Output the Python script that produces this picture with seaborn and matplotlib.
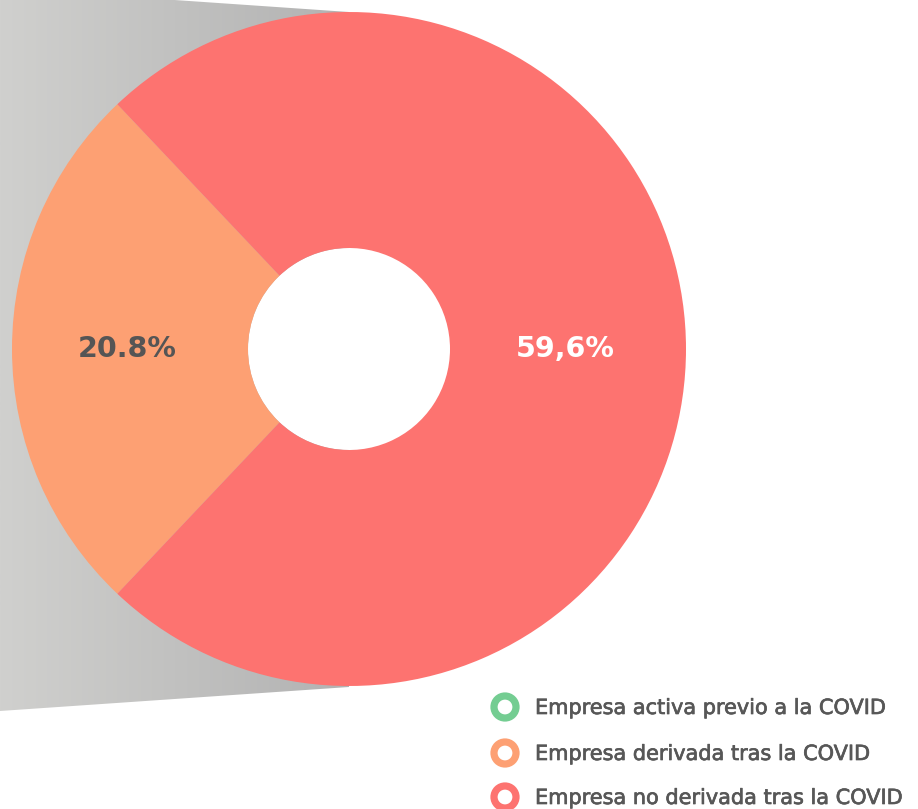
import numpy as np
import matplotlib
matplotlib.use("Agg")
import matplotlib.pyplot as plt
import matplotlib.patheffects as pe
from matplotlib.patches import Polygon, Circle
import seaborn as sns

# Categories and shares (%)
categories = ["Empresa activa previo a la COVID",
              "Empresa derivada tras la COVID",
              "Empresa no derivada tras la COVID"]
shares = [19.6, 20.8, 59.6]
colors = ["#74CD92", "#FDA073", "#FD7370"]
decimal_sep = [".", ".", ","]

# Slices shown in this ring (the first category lives in the linked breakdown)
ring_idx = [1, 2]

sns.set_theme(style="white")
plt.rcParams["font.family"] = ["DejaVu Sans"]

W, H = 918, 809
fig = plt.figure(figsize=(W / 100, H / 100), dpi=100)
ax = fig.add_axes([0, 0, 1, 1])

cx, cy, R = 349, 349, 337
hole = 101

# Donut ring (y axis is inverted, so draw clockwise to keep the usual orientation)
vals = [shares[i] for i in ring_idx]
cols = [colors[i] for i in ring_idx]
orange_frac = vals[0] / sum(vals)
start = -(180 - orange_frac * 180)
wedges, _ = ax.pie(vals, colors=cols, startangle=start, counterclock=False,
                   center=(cx, cy), radius=R,
                   wedgeprops=dict(width=R - hole, linewidth=0, antialiased=True),
                   frame=True)
for w in wedges:
    w.set_zorder(2)
ax.set_xlim(0, W)
ax.set_ylim(H, 0)
ax.set_aspect("equal")
ax.axis("off")

# Grey connector band behind the ring, shaded left-to-right
band = [(0, -12), (cx, 12), (cx, 687), (0, 711)]
grad = np.linspace(0, 1, 256)[None, :]
cmap = matplotlib.colors.LinearSegmentedColormap.from_list("band", ["#d0d0ce", "#b2b2b2"])
img = ax.imshow(grad, cmap=cmap, extent=(0, cx + 2, 711, -12), aspect="auto", zorder=0)
clip = Polygon(band, closed=True, transform=ax.transData, facecolor="none", edgecolor="none")
ax.add_patch(clip)
img.set_clip_path(clip)
ax.add_patch(Circle((cx, cy), hole, facecolor="white", edgecolor="none", zorder=1.5))
ax.set_xlim(0, W)
ax.set_ylim(H, 0)

# Value labels in the middle of the ring
label_colors = ["#555555", "#ffffff"]
r_lab = (R + hole) / 2
for w, i, lc in zip(wedges, ring_idx, label_colors):
    ang = np.deg2rad((w.theta1 + w.theta2) / 2)
    x = cx + r_lab * np.cos(ang) - 3
    y = cy + r_lab * np.sin(ang)
    txt = f"{shares[i]:.1f}".replace(".", decimal_sep[i]) + "%"
    ax.text(x, y, txt, ha="center", va="center", fontsize=20.5,
            fontweight="bold", color=lc, zorder=5)

# Legend: ring markers with labels
leg_x, leg_tx = 505, 535
leg_y = [707, 753, 797]
for cat, c, y in zip(categories, colors, leg_y):
    ax.add_patch(Circle((leg_x, y), 11, facecolor="white", edgecolor=c,
                        linewidth=5.2, zorder=6, clip_on=False))
    ax.text(leg_tx, y + 7, cat, ha="left", va="baseline", fontsize=15,
            color="#575757", zorder=6,
            path_effects=[pe.withStroke(linewidth=0.5, foreground="#575757")])

fig.savefig("out.png", dpi=100, facecolor="white")
